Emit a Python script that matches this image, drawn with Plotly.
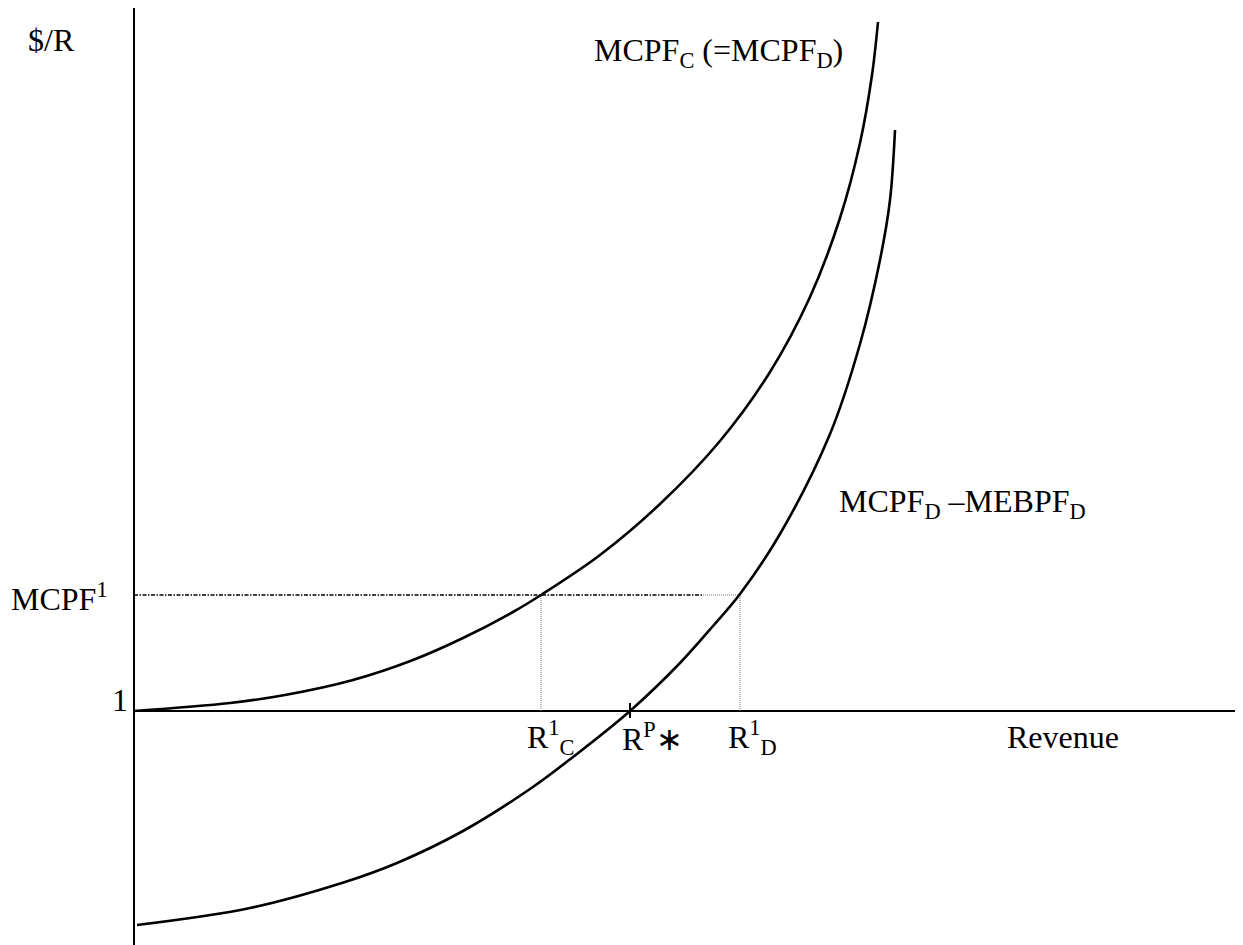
import plotly.graph_objects as go

# ---- data (diagram units: revenue on x, $/R on y; horizontal axis at y = 1) ----
mcpf_c_rev = [0.0, 0.96, 1.51, 2.19, 2.79, 3.29, 3.79, 4.07, 4.66, 5.26, 5.86, 6.36, 6.76, 7.06, 7.26, 7.38, 7.44]
mcpf_c_val = [1.0, 1.08, 1.16, 1.31, 1.51, 1.73, 1.99, 2.16, 2.56, 3.07, 3.70, 4.39, 5.14, 5.93, 6.68, 7.36, 7.89]

net_rev = [0.03, 1.16, 2.11, 2.63, 3.29, 3.96, 4.39, 4.96, 5.46, 5.79, 6.06, 6.46, 6.96, 7.26, 7.46, 7.56, 7.61]
net_val = [-1.14, -0.97, -0.71, -0.52, -0.20, 0.22, 0.54, 1.0, 1.48, 1.85, 2.17, 2.77, 3.77, 4.67, 5.51, 6.11, 6.81]

MCPF1 = 2.16
R1_C = 4.07
RP_STAR = 4.96
R1_D = 6.06
BASE = 1.0

X_RANGE = [-1.26, 11.17]
Y_RANGE = [-1.42, 8.03]
AXIS_X_END = 11.06
AXIS_Y_TOP = 8.04

FONT = "Liberation Serif, Times New Roman, serif"
FS = 32

fig = go.Figure()

# axes
fig.add_trace(go.Scatter(x=[0, 0], y=[Y_RANGE[0], AXIS_Y_TOP], mode="lines",
                         line=dict(color="black", width=2), hoverinfo="skip"))
fig.add_trace(go.Scatter(x=[0, AXIS_X_END], y=[BASE, BASE], mode="lines",
                         line=dict(color="black", width=2), hoverinfo="skip"))

# MCPF1 horizontal (dash-dot then dotted)
split = 5.69
fig.add_trace(go.Scatter(x=[0, split], y=[MCPF1, MCPF1], mode="lines",
                         line=dict(color="black", width=1.7, dash="4px,1.5px,1.5px,1.5px"), hoverinfo="skip"))
fig.add_trace(go.Scatter(x=[split, R1_D], y=[MCPF1, MCPF1], mode="lines",
                         line=dict(color="#777777", width=1.2, dash="1px,1px"), hoverinfo="skip"))

# vertical dotted drop lines
for xv in (R1_C, R1_D):
    fig.add_trace(go.Scatter(x=[xv, xv], y=[BASE, MCPF1], mode="lines",
                             line=dict(color="#777777", width=1, dash="1px,1px"), hoverinfo="skip"))

# tick at R^P*
fig.add_trace(go.Scatter(x=[RP_STAR, RP_STAR], y=[BASE - 0.07, BASE + 0.08], mode="lines",
                         line=dict(color="black", width=2), hoverinfo="skip"))

# curves
fig.add_trace(go.Scatter(x=mcpf_c_rev, y=mcpf_c_val, mode="lines",
                         line=dict(color="black", width=2.6, shape="spline", smoothing=1.0), hoverinfo="skip"))
fig.add_trace(go.Scatter(x=net_rev, y=net_val, mode="lines",
                         line=dict(color="black", width=2.6, shape="spline", smoothing=1.0), hoverinfo="skip"))

labels = [
    ("$/R", -1.08, 7.71),
    ("MCPF<sub>C</sub> (=MCPF<sub>D</sub>)", 4.58, 7.59),
    ("MCPF<sub>D</sub> \u2013MEBPF<sub>D</sub>", 7.03, 3.08),
    ("MCPF<sup>1</sup>", -1.25, 2.14),
    ("1", -0.24, 1.11),
    ("R<sup>1</sup><sub>C</sub>", 3.91, 0.74),
    ("R<sup>P</sup>\u2217", 4.86, 0.74),
    ("R<sup>1</sup><sub>D</sub>", 5.92, 0.74),
    ("Revenue", 8.71, 0.74),
]
for txt, x, y in labels:
    fig.add_annotation(x=x, y=y, text=txt, showarrow=False, xanchor="left", yanchor="middle",
                       font=dict(family=FONT, size=FS, color="black"))

fig.update_layout(
    width=1243, height=945,
    margin=dict(l=0, r=0, t=0, b=0),
    paper_bgcolor="white", plot_bgcolor="white",
    showlegend=False,
    xaxis=dict(range=X_RANGE, visible=False, fixedrange=True),
    yaxis=dict(range=Y_RANGE, visible=False, fixedrange=True),
)

fig.write_html("out.html")
